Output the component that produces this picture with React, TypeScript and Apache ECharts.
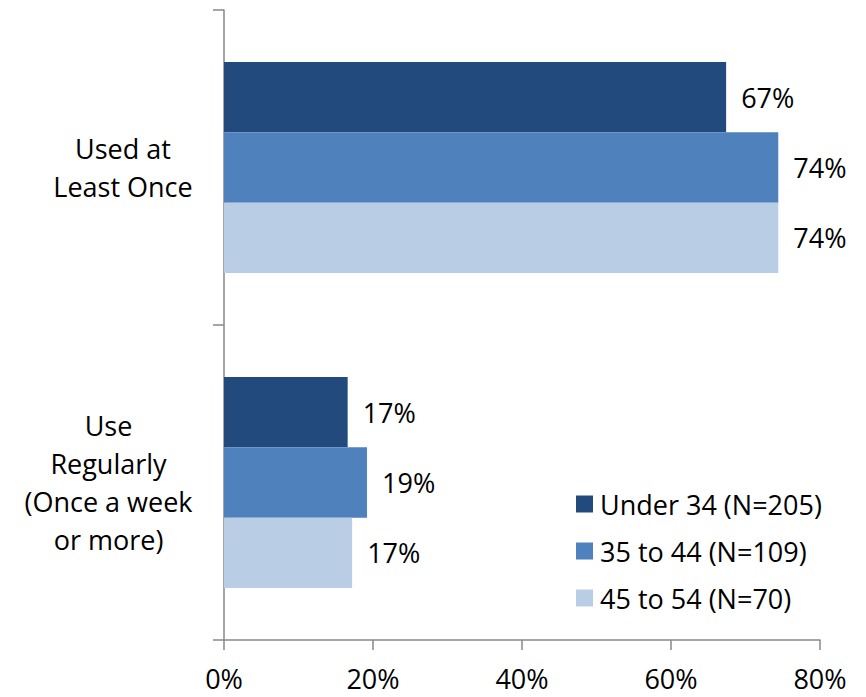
import React, { useEffect, useRef } from "react";
import * as echarts from "echarts";

const categories = ["Used at\nLeast Once", "Use\nRegularly\n(Once a week\nor more)"];
const seriesNames = ["Under 34 (N=205)", "35 to 44 (N=109)", "45 to 54 (N=70)"];
const under34 = [67.4, 16.6];
const age35to44 = [74.4, 19.2];
const age45to54 = [74.4, 17.2];
const xTicks = [0, 20, 40, 60, 80];
const colors = ["#234A7D", "#4F81BD", "#B9CDE5"];

const FONT_FAMILY = "'Open Sans', sans-serif";
const FONT_SIZE = 27;

// Width of the widest line of a multi-line label, so the lines can be centred
// within a right-aligned block.
function blockWidth(text: string): number {
  const ctx = document.createElement("canvas").getContext("2d");
  if (!ctx) return 180;
  ctx.font = `${FONT_SIZE}px ${FONT_FAMILY}`;
  return Math.ceil(Math.max(...text.split("\n").map((l) => ctx.measureText(l).width)));
}

export default function App() {
  const ref = useRef<HTMLDivElement>(null);

  useEffect(() => {
    if (!ref.current) return;
    const chart = echarts.init(ref.current, undefined, { renderer: "svg" });
    const values = [under34, age35to44, age45to54];
    const rich: Record<string, any> = {};
    categories.forEach((c, i) => {
      rich["c" + i] = {
        width: blockWidth(c),
        align: "center",
        fontFamily: FONT_FAMILY,
        fontSize: FONT_SIZE,
        lineHeight: 38,
        color: "#000",
      };
    });
    chart.setOption({
      animation: false,
      grid: { left: 224, right: 46, top: 10, bottom: 57, containLabel: false, outerBoundsMode: "none" },
      legend: {
        orient: "vertical",
        left: 571,
        top: 484,
        itemWidth: 17,
        itemHeight: 17,
        itemGap: 17,
        icon: "rect",
        textStyle: {
          fontFamily: FONT_FAMILY,
          fontSize: FONT_SIZE,
          lineHeight: 30,
          color: "#000",
          padding: [0, 0, 0, 2],
        },
        data: seriesNames,
      },
      xAxis: {
        type: "value",
        min: xTicks[0],
        max: xTicks[xTicks.length - 1],
        interval: 20,
        axisLine: { show: true, lineStyle: { color: "#898989", width: 1.5 } },
        axisTick: { show: true, length: 10, lineStyle: { color: "#898989", width: 1.5 } },
        splitLine: { show: false },
        axisLabel: {
          margin: 25,
          fontFamily: FONT_FAMILY,
          fontSize: FONT_SIZE,
          color: "#000",
          formatter: (v: number) => `${v}%`,
        },
      },
      yAxis: {
        type: "category",
        inverse: true,
        data: categories,
        axisLine: { show: true, lineStyle: { color: "#898989", width: 1.5 } },
        axisTick: { show: true, length: 11, lineStyle: { color: "#898989", width: 1.5 } },
        axisLabel: {
          margin: 31,
          align: "right",
          fontFamily: FONT_FAMILY,
          fontSize: FONT_SIZE,
          lineHeight: 38,
          color: "#000",
          rich,
          formatter: (v: string) => {
            const key = "c" + categories.indexOf(v);
            return v
              .split("\n")
              .map((line) => `{${key}|${line}}`)
              .join("\n");
          },
        },
      },
      series: seriesNames.map((name, i) => ({
        name,
        type: "bar",
        data: values[i],
        barGap: "0%",
        barCategoryGap: "33%",
        itemStyle: { color: colors[i] },
        label: {
          show: true,
          position: "right",
          distance: 15,
          fontFamily: FONT_FAMILY,
          fontSize: FONT_SIZE,
          color: "#000",
          formatter: (p: any) => `${Math.round(p.value)}%`,
        },
      })),
    });
    return () => chart.dispose();
  }, []);

  return (
    <div
      ref={ref}
      style={{ position: "absolute", left: 0, top: 0, width: 866, height: 697 }}
    />
  );
}
